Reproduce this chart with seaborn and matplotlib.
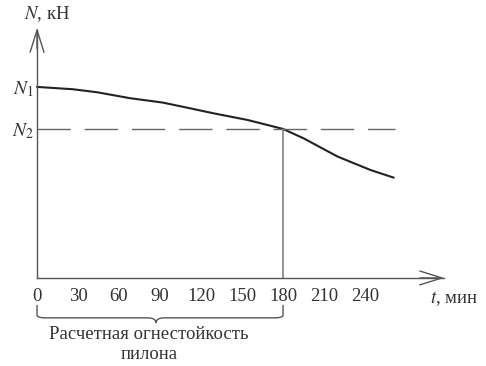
import matplotlib
matplotlib.use("Agg")
import matplotlib.pyplot as plt
import seaborn as sns
import pandas as pd
from matplotlib.path import Path
from matplotlib.patches import PathPatch

# Data (N relative: N1 = 1.0)
t_vals = [0, 26, 44, 68, 92, 112, 129, 154, 180, 195, 220, 244, 261]
n_vals = [1.0, 0.988, 0.972, 0.941, 0.918, 0.888, 0.862, 0.827, 0.780, 0.731, 0.635, 0.565, 0.525]
N1 = 1.0
N2 = 0.780
t_fire = 180
x_ticks = [0, 30, 60, 90, 120, 150, 180, 210, 240]
y_tick_labels = ["$N_1$", "$N_2$"]

sns.set_theme(style="white")
plt.rcParams["font.family"] = ["Liberation Serif", "DejaVu Serif"]
plt.rcParams["mathtext.fontset"] = "stix"

fig = plt.figure(figsize=(4.86, 3.66), dpi=100)
ax = fig.add_axes([0, 0, 1, 1])
ax.set_xlim(-27.1, 328.5)
ax.set_ylim(-0.461, 1.455)

axis_c = "#555555"
text_c = "#333333"

df = pd.DataFrame({"t": t_vals, "N": n_vals})
sns.lineplot(data=df, x="t", y="N", ax=ax, color="#222222", lw=1.5)

# dashed N2 line
ax.plot([0, 262], [N2, N2], color="#666666", lw=1.0, linestyle=(0, (24, 10)))
# vertical at t=180
ax.plot([t_fire, t_fire], [0, N2], color="#777777", lw=1.1)

# spines as axes through origin
for s in ["top", "right"]:
    ax.spines[s].set_visible(False)
ax.spines["left"].set_position(("data", 0))
ax.spines["bottom"].set_position(("data", 0))
ax.spines["left"].set_bounds(0, 1.30)
ax.spines["bottom"].set_bounds(0, 298)
for s in ["left", "bottom"]:
    ax.spines[s].set_color(axis_c)
    ax.spines[s].set_linewidth(1.0)

ax.annotate("", xy=(298, 0), xytext=(280, 0),
            arrowprops=dict(arrowstyle="->,head_length=1.6,head_width=0.5",
                            color=axis_c, lw=1.0, mutation_scale=10,
                            shrinkA=0, shrinkB=0))
ax.annotate("", xy=(0, 1.31), xytext=(0, 1.2),
            arrowprops=dict(arrowstyle="->,head_length=1.6,head_width=0.5",
                            color=axis_c, lw=1.0, mutation_scale=10,
                            shrinkA=0, shrinkB=0))

ax.set_xticks(x_ticks)
ax.set_xticklabels([str(v) for v in x_ticks])
ax.tick_params(axis="x", direction="inout", length=12, width=1.0, color=axis_c,
               labelsize=13.5, labelcolor=text_c, pad=1)
ax.set_yticks([N1, N2])
ax.set_yticklabels(y_tick_labels)
ax.tick_params(axis="y", length=0, labelsize=14, labelcolor=text_c, pad=2)
ax.set_xlabel("")
ax.set_ylabel("")
ax.grid(False)

ax.text(7.3, 1.382, "$N$, кН", fontsize=13.5, color=text_c, ha="center", va="center")
ax.text(305, -0.11, "$t$, мин", fontsize=13.5, color=text_c, ha="center", va="center")

# brace
yt, yb, ym = -0.141, -0.209, -0.236
tm = 87
verts = [(0, yt), (0, yb + 0.014), (0, yb), (6, yb), (tm - 6, yb), (tm, yb), (tm, ym),
         (tm, yb), (tm + 6, yb), (t_fire - 6, yb), (t_fire, yb), (t_fire, yb + 0.014), (t_fire, yt)]
codes = [Path.MOVETO, Path.LINETO, Path.CURVE3, Path.CURVE3, Path.LINETO, Path.CURVE3, Path.CURVE3,
         Path.CURVE3, Path.CURVE3, Path.LINETO, Path.CURVE3, Path.CURVE3, Path.LINETO]
ax.add_patch(PathPatch(Path(verts, codes), fill=False, edgecolor="#555555", lw=1.0))

ax.text(82, -0.298, "Расчетная огнестойкость", fontsize=13.5, color=text_c, ha="center", va="center")
ax.text(82, -0.403, "пилона", fontsize=13.5, color=text_c, ha="center", va="center")

fig.savefig("out.png", dpi=100, facecolor="white")
